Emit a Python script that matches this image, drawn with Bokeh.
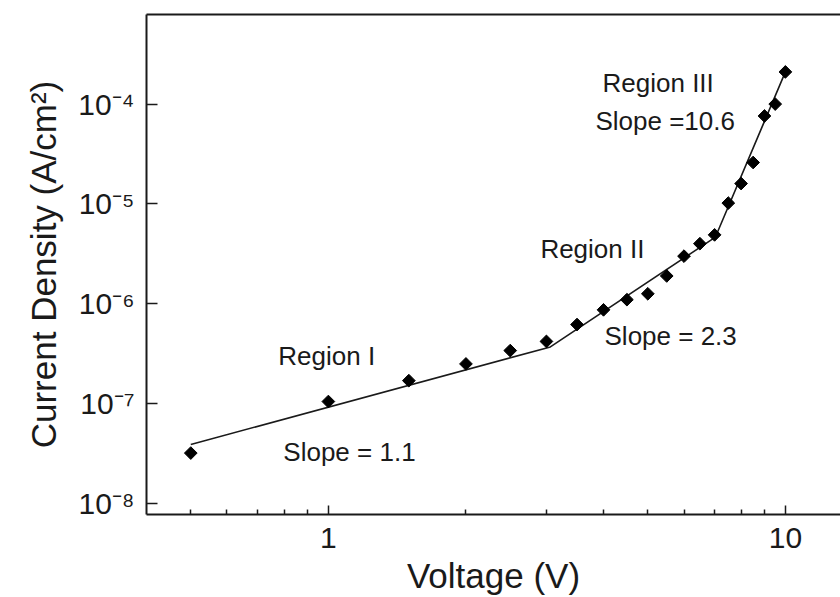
import math

from bokeh.core.properties import value
from bokeh.embed import file_html
from bokeh.models import ColumnDataSource, FixedTicker, Label, LogAxis, Range1d
from bokeh.plotting import figure
from bokeh.resources import INLINE

# Measured J-V data (V in volts, J in A/cm^2)
voltage = [0.5, 1.0, 1.5, 2.0, 2.5, 3.0, 3.5, 4.0, 4.5, 5.0,
           5.5, 6.0, 6.5, 7.0, 7.5, 8.0, 8.5, 9.0, 9.5, 10.0]
current_density = [3.2e-8, 1.05e-7, 1.7e-7, 2.5e-7, 3.4e-7, 4.2e-7, 6.2e-7, 8.7e-7,
                   1.1e-6, 1.26e-6, 1.9e-6, 3.0e-6, 4.0e-6, 4.9e-6, 1.02e-5, 1.6e-5,
                   2.6e-5, 7.6e-5, 1.0e-4, 2.1e-4]

# Piecewise power-law fit (knees between the three conduction regions)
fit_voltage = [0.5, 3.06, 7.03, 10.0]
fit_density = [3.9e-8, 3.7e-7, 4.66e-6, 2.1e-4]

# Region annotations
region_text = ["Region I", "Slope = 1.1", "Region II", "Slope = 2.3", "Region III", "Slope =10.6"]
region_x = [0.777, 0.797, 2.91, 4.02, 3.98, 3.84]
region_y = [3.0e-7, 3.3e-8, 3.53e-6, 4.8e-7, 1.62e-4, 6.76e-5]

# Axis ticks
x_ticks = [1, 10]
x_tick_labels = ["1", "10"]
x_minor_ticks = [0.5, 0.6, 0.7, 0.8, 0.9, 2, 3, 4, 5, 6, 7, 8, 9]
y_ticks = [1e-8, 1e-7, 1e-6, 1e-5, 1e-4]
y_tick_labels = ["10\u207b\u2078", "10\u207b\u2077", "10\u207b\u2076", "10\u207b\u2075", "10\u207b\u2074"]

FONT = "Liberation Sans"
INK = "#1a1a1a"

p = figure(
    width=840, height=597,
    x_axis_type="log", y_axis_type="log",
    x_range=Range1d(0.4, 13.2), y_range=Range1d(10 ** -8.11, 10 ** -3.103),
    output_backend="svg", toolbar_location=None,
    min_border_left=146, min_border_right=0, min_border_top=14, min_border_bottom=82,
    background_fill_color="white", border_fill_color="white",
)
p.outline_line_color = None
p.grid.visible = False

# bottom axis
xa = p.xaxis[0]
xa.ticker = FixedTicker(ticks=x_ticks, minor_ticks=x_minor_ticks)
xa.major_label_overrides = {t: s for t, s in zip(x_ticks, x_tick_labels)}
xa.axis_label = "Voltage (V)"

# left axis
ya = p.yaxis[0]
ya.ticker = FixedTicker(ticks=y_ticks, minor_ticks=[])
ya.major_label_overrides = {t: s for t, s in zip(y_ticks, y_tick_labels)}
ya.axis_label = "Current Density (A/cm\u00b2)"

for ax in (xa, ya):
    ax.axis_line_color = INK
    ax.axis_line_width = 2
    ax.major_tick_line_color = INK
    ax.minor_tick_line_color = INK
    ax.major_tick_line_width = 1.5
    ax.minor_tick_line_width = 1.5
    ax.major_tick_out = 0
    ax.minor_tick_out = 0
    ax.minor_tick_in = 5
    ax.major_label_text_font = FONT
    ax.major_label_text_color = INK
    ax.major_label_text_font_size = "30px"
    ax.axis_label_text_font = FONT
    ax.axis_label_text_font_style = "normal"
    ax.axis_label_text_color = INK
    ax.axis_label_text_font_size = "35px"

xa.major_tick_in = 9
xa.major_label_standoff = 13
xa.axis_label_standoff = 5
ya.major_tick_in = 11
ya.major_label_standoff = 12
ya.axis_label_standoff = 12

# top frame line
top = LogAxis(ticker=FixedTicker(ticks=[]), axis_line_color=INK, axis_line_width=2,
              major_tick_in=0, major_tick_out=0, minor_tick_in=0, minor_tick_out=0,
              major_label_text_font_size="0px", major_label_standoff=0)
p.add_layout(top, "above")

# fit line and data
p.line(fit_voltage, fit_density, line_color=INK, line_width=1.6)
src = ColumnDataSource(dict(v=voltage, j=current_density))
p.scatter("v", "j", source=src, marker="square", size=9, angle=math.pi / 4,
          fill_color="black", line_color="black", line_width=1)

for t, x, y in zip(region_text, region_x, region_y):
    p.add_layout(Label(x=x, y=y, text=t, text_font=FONT, text_font_size="26px",
                       text_color=INK, text_baseline="middle", text_align="left"))

open("out.html", "w").write(file_html(p, INLINE))
